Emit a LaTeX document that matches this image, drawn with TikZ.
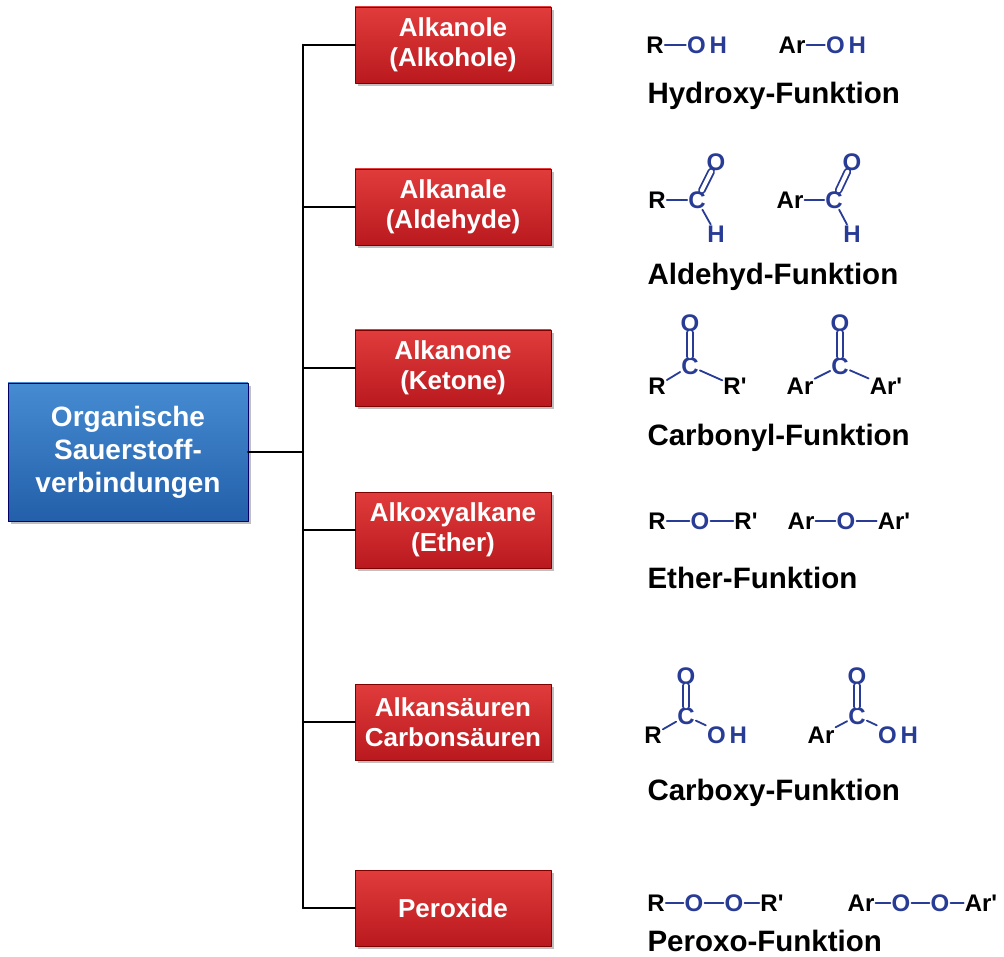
\documentclass[tikz,border=0pt]{standalone}
\usepackage{fontspec}
\setmainfont{Liberation Sans}
\usetikzlibrary{positioning,shadows}
\definecolor{chemblue}{RGB}{40,60,150}
\definecolor{rtop}{RGB}{225,60,60}
\definecolor{rbot}{RGB}{185,25,30}
\definecolor{btop}{RGB}{70,140,210}
\definecolor{bbot}{RGB}{35,95,170}
\newcommand{\pr}{\textquotesingle}
\begin{document}
\begin{tikzpicture}[x=1pt,y=-1pt,line join=round,line cap=round]
\tikzset{
  box/.style={draw=red!50!black,top color=rtop,bottom color=rbot,minimum width=196pt,minimum height=76pt,text=white,font=\fontsize{26}{30}\selectfont\bfseries,align=center,drop shadow},
  root/.style={draw=blue!40!black,top color=btop,bottom color=bbot,minimum width=240pt,minimum height=138pt,text=white,font=\fontsize{28}{33}\selectfont\bfseries,align=center,drop shadow},
  fn/.style={anchor=west,font=\fontsize{29.5}{33}\selectfont\bfseries},
  atom/.style={inner sep=1pt,font=\fontsize{24}{26}\selectfont\bfseries},
  bt/.style={atom,text=chemblue},
  bond/.style={draw=chemblue,line width=1.8pt},
  dbond/.style={bond,double=white,double distance=4pt}
}
\useasboundingbox (0,0) rectangle (1004,957);
\node[root] (org) at (128,452) {Organische\\Sauerstoff-\\verbindungen};
\node[box] (b1) at (453,45) {Alkanole\\(Alkohole)};
\node[box] (b2) at (453,207) {Alkanale\\(Aldehyde)};
\node[box] (b3) at (453,368) {Alkanone\\(Ketone)};
\node[box] (b4) at (453,530) {Alkoxyalkane\\(Ether)};
\node[box] (b5) at (453,722) {Alkansäuren\\Carbonsäuren};
\node[box] (b6) at (453,908) {Peroxide};
\coordinate (top) at (303,45);
\coordinate (bot) at (303,908);
\draw[line width=2.5pt] (top) -- (bot);
\draw[line width=2.5pt] (org.east) -- (org.east -| top);
\foreach \b in {b1,b2,b3,b4,b5,b6}
\draw[line width=2.5pt] (\b.west) -- (\b.west -| top);
% Hydroxy
\node[atom] (r1) at (655,45) {R};
\node[bt] (o1) at (707,45) {O\,H};
\draw[bond] (r1) -- (o1);
\node[atom] (a1) at (792,45) {Ar};
\node[bt] (o1b) at (846,45) {O\,H};
\draw[bond] (a1) -- (o1b);
\node[fn] (f1) at (644,96) {Hydroxy-Funktion};
% Aldehyd
\node[atom] (r2) at (657,200) {R};
\node[bt] (c2) at (697,200) {C};
\node[bt] (o2) at (716,162) {O};
\node[bt] (h2) at (716,234) {H};
\draw[bond] (r2) -- (c2) (c2) -- (h2);
\draw[dbond] (c2) -- (o2);
\node[atom] (a2) at (790,200) {Ar};
\node[bt] (c2b) at (834,200) {C};
\node[bt] (o2b) at (852,162) {O};
\node[bt] (h2b) at (852,234) {H};
\draw[bond] (a2) -- (c2b) (c2b) -- (h2b);
\draw[dbond] (c2b) -- (o2b);
\node[fn] (f2) at (644,277) {Aldehyd-Funktion};
% Carbonyl
\node[bt] (c3) at (690,366) {C};
\node[bt] (o3) at (690,323) {O};
\node[atom] (r3) at (657,386) {R};
\node[atom] (rr3) at (735,386) {R\pr};
\draw[bond] (r3) -- (c3) -- (rr3);
\draw[dbond] (c3) -- (o3);
\node[bt] (c3b) at (840,366) {C};
\node[bt] (o3b) at (840,323) {O};
\node[atom] (a3) at (800,386) {Ar};
\node[atom] (aa3) at (886,386) {Ar\pr};
\draw[bond] (a3) -- (c3b) -- (aa3);
\draw[dbond] (c3b) -- (o3b);
\node[fn] (f3) at (644,438) {Carbonyl-Funktion};
% Ether
\node[atom] (r4) at (657,521) {R};
\node[bt] (o4) at (700,521) {O};
\node[atom] (rr4) at (746,521) {R\pr};
\draw[bond] (r4) -- (o4) -- (rr4);
\node[atom] (a4) at (801,521) {Ar};
\node[bt] (o4b) at (846,521) {O};
\node[atom] (aa4) at (894,521) {Ar\pr};
\draw[bond] (a4) -- (o4b) -- (aa4);
\node[fn] (f4) at (644,578) {Ether-Funktion};
% Carboxy
\node[bt] (c5) at (686,716) {C};
\node[bt] (o5) at (686,676) {O};
\node[atom] (r5) at (653,735) {R};
\node[bt] (oh5) at (727,735) {O\,H};
\draw[bond] (r5) -- (c5) -- (oh5.north west);
\draw[dbond] (c5) -- (o5);
\node[bt] (c5b) at (857,716) {C};
\node[bt] (o5b) at (857,676) {O};
\node[atom] (a5) at (821,735) {Ar};
\node[bt] (oh5b) at (898,735) {O\,H};
\draw[bond] (a5) -- (c5b) -- (oh5b.north west);
\draw[dbond] (c5b) -- (o5b);
\node[fn] (f5) at (644,793) {Carboxy-Funktion};
% Peroxo
\node[atom] (r6) at (656,903) {R};
\node[bt] (o6) at (694,903) {O};
\node[bt] (oo6) at (734,903) {O};
\node[atom] (rr6) at (772,903) {R\pr};
\draw[bond] (r6) -- (o6) -- (oo6) -- (rr6);
\node[atom] (a6) at (861,903) {Ar};
\node[bt] (o6b) at (901,903) {O};
\node[bt] (oo6b) at (940,903) {O};
\node[atom] (aa6) at (981,903) {Ar\pr};
\draw[bond] (a6) -- (o6b) -- (oo6b) -- (aa6);
\node[fn] (f6) at (644,941) {Peroxo-Funktion};
\end{tikzpicture}
\end{document}
